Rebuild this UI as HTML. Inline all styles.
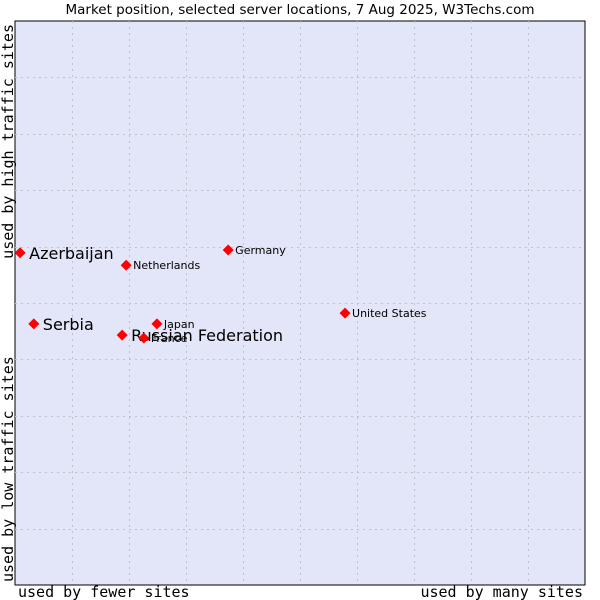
<!DOCTYPE html>
<html><head><meta charset="utf-8"><style>
body{margin:0;background:#fff;width:600px;height:600px;overflow:hidden}
svg{display:block}
</style></head><body>
<svg width="600" height="600" xmlns="http://www.w3.org/2000/svg">
<text x="300" y="14" text-anchor="middle" font-family="DejaVu Sans, sans-serif" font-size="13.5" fill="#000">Market position, selected server locations, 7 Aug 2025, W3Techs.com</text>
<rect x="15" y="21" width="570" height="564" fill="#e3e5f8" stroke="#000" stroke-width="1"/>
<g id="grid"></g>
<g id="pts"></g>
<text x="18" y="597" font-family="DejaVu Sans Mono, monospace" font-size="15">used by fewer sites</text>
<text x="583" y="597" text-anchor="end" font-family="DejaVu Sans Mono, monospace" font-size="15">used by many sites</text>
<text transform="translate(13,582) rotate(-90)" font-family="DejaVu Sans Mono, monospace" font-size="15">used by low traffic sites</text>
<text transform="translate(13,24) rotate(-90)" text-anchor="end" font-family="DejaVu Sans Mono, monospace" font-size="15">used by high traffic sites</text>
</svg>
<script>
const names=["Azerbaijan","Serbia","Russian Federation","France","Japan","Netherlands","Germany","United States"];
const xVals=[0.9,3.3,18.8,22.6,24.9,19.5,37.4,57.9];
const yVals=[58.9,46.3,44.3,43.8,46.3,56.7,59.4,48.2];
const highlighted=[true,true,true,false,false,false,false,false];
const NS="http://www.w3.org/2000/svg";
const L=15,T=21,W=570,H=564;
function sx(v){return L+v/100*W;}
function sy(v){return T+H-v/100*H;}
const g=document.getElementById('grid');
for(let i=1;i<10;i++){
 const x=Math.round(sx(i*10))+0.5,y=Math.round(sy(i*10))+0.5;
 const a=document.createElementNS(NS,'line');
 
 
 a.setAttribute('x1',x);a.setAttribute('x2',x);a.setAttribute('y1',T);a.setAttribute('y2',T+H);
 a.setAttribute('stroke','#c0c0c8');a.setAttribute('stroke-dasharray','2,4');g.appendChild(a);
 const b=document.createElementNS(NS,'line');
 
 
 b.setAttribute('y1',y);b.setAttribute('y2',y);b.setAttribute('x1',L);b.setAttribute('x2',L+W);
 b.setAttribute('stroke','#c0c0c8');b.setAttribute('stroke-dasharray','2,4');g.appendChild(b);
}
const p=document.getElementById('pts');
names.forEach((n,i)=>{
 const x=sx(xVals[i]),y=sy(yVals[i]);
 const d=document.createElementNS(NS,'polygon');
 
 
 d.setAttribute('points',`${x},${y-5.5} ${x+5.5},${y} ${x},${y+5.5} ${x-5.5},${y}`);
 d.setAttribute('fill','#ff0000');
 p.appendChild(d);
 const t=document.createElementNS(NS,'text');
 
 
 t.setAttribute('x',x+(highlighted[i]?9:7));
 t.setAttribute('y',y+(highlighted[i]?6:4));
 t.setAttribute('font-family','DejaVu Sans, sans-serif');
 t.setAttribute('font-size',highlighted[i]?16:11);
 t.setAttribute('fill','#000');
 t.textContent=n;
 p.appendChild(t);
});
</script>
</body></html>
